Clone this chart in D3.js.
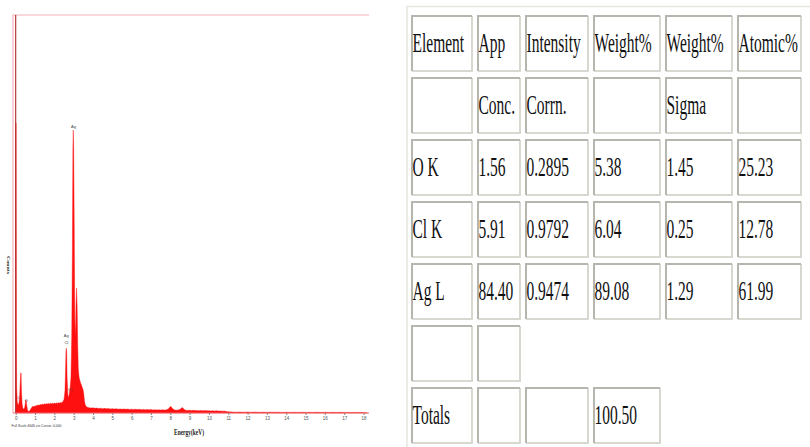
<!DOCTYPE html>
<html>
<head>
<meta charset="utf-8">
<script src="https://cdn.jsdelivr.net/npm/d3@7"></script>
<style>
  html, body { margin: 0; padding: 0; background: #fff; overflow: hidden; }
  svg { display: block; }
</style>
</head>
<body>
<svg id="fig" width="810" height="447"></svg>
<script>
// ---------- EDS spectrum: [energy keV, counts] ----------
const lowEnergy = [
  [0.00, 3385], [0.02, 3385], [0.035, 900], [0.05, 300], [0.08, 130], [0.11, 100],
  [0.14, 95], [0.17, 120], [0.20, 180], [0.23, 330], [0.26, 467], [0.28, 467],
  [0.30, 260], [0.33, 110], [0.37, 55], [0.42, 45], [0.46, 60], [0.49, 100],
  [0.52, 152], [0.54, 152], [0.57, 90], [0.61, 35], [0.66, 18], [0.71, 22], [0.76, 38]
];
const continuum = [
  [0.80, 55], [0.85, 70], [0.90, 78], [0.95, 74], [1.00, 85], [1.05, 80], [1.10, 92],
  [1.15, 88], [1.20, 95], [1.25, 90], [1.30, 102], [1.35, 96], [1.40, 105], [1.45, 99],
  [1.50, 108], [1.55, 101], [1.60, 110], [1.65, 104], [1.70, 112], [1.75, 106],
  [1.80, 114], [1.85, 108], [1.90, 113], [1.95, 107], [2.00, 116], [2.05, 110],
  [2.10, 118], [2.15, 112], [2.20, 120], [2.25, 114], [2.30, 122], [2.35, 118],
  [2.40, 125], [2.45, 135]
];
const silverRegion = [
  [2.50, 160], [2.55, 260], [2.58, 500], [2.60, 720], [2.62, 759], [2.64, 700],
  [2.66, 420], [2.70, 210], [2.74, 180], [2.78, 240], [2.82, 300], [2.86, 420],
  [2.90, 900], [2.93, 1800], [2.96, 3100], [2.98, 3303], [3.00, 3100], [3.03, 2200],
  [3.06, 1100], [3.09, 900], [3.12, 1250], [3.15, 1459], [3.18, 1250], [3.21, 800],
  [3.24, 520], [3.28, 420], [3.32, 380], [3.36, 350], [3.40, 330], [3.44, 300],
  [3.48, 280], [3.52, 230], [3.56, 140], [3.60, 95], [3.65, 75], [3.70, 68], [3.75, 64]
];
const midEnergy = [
  [3.8, 62], [3.9, 57], [4.0, 60], [4.1, 54], [4.2, 58], [4.3, 52], [4.4, 56], [4.5, 50],
  [4.6, 54], [4.7, 49], [4.8, 52], [4.9, 47], [5.0, 51], [5.1, 46], [5.2, 49], [5.3, 45],
  [5.4, 48], [5.5, 44], [5.6, 47], [5.7, 43], [5.8, 46], [5.9, 42], [6.0, 45], [6.1, 41],
  [6.2, 44], [6.3, 40], [6.4, 43], [6.5, 39], [6.6, 42], [6.7, 38], [6.8, 41], [6.9, 37],
  [7.0, 40], [7.1, 36], [7.2, 39], [7.3, 35], [7.4, 38], [7.5, 35], [7.6, 37], [7.7, 34],
  [7.8, 38], [7.9, 48], [7.95, 62], [8.0, 75], [8.05, 73], [8.1, 55], [8.2, 38], [8.3, 33],
  [8.4, 36], [8.5, 40], [8.55, 52], [8.6, 62], [8.65, 60], [8.7, 44], [8.8, 33], [8.9, 30],
  [9.0, 32], [9.1, 29], [9.2, 31], [9.3, 28], [9.4, 30], [9.5, 27], [9.6, 29], [9.7, 26],
  [9.8, 28], [9.9, 25], [10.0, 27], [10.1, 24], [10.2, 26], [10.3, 23], [10.4, 25],
  [10.5, 22], [10.6, 24], [10.7, 21], [10.8, 22], [10.9, 18], [11.0, 14]
];
const highEnergy = [
  [11.2, 12], [11.4, 10], [11.6, 12], [11.8, 9], [12.0, 11], [12.2, 9], [12.4, 11],
  [12.6, 8], [12.8, 10], [13.0, 8], [13.2, 10], [13.4, 8], [13.6, 10], [13.8, 7],
  [14.0, 9], [14.2, 7], [14.4, 9], [14.6, 7], [14.8, 9], [15.0, 7], [15.2, 8], [15.4, 7],
  [15.6, 9], [15.8, 6], [16.0, 8], [16.2, 6], [16.4, 8], [16.6, 6], [16.8, 8], [17.0, 6],
  [17.2, 7], [17.4, 6], [17.6, 7], [17.8, 5], [18.0, 5], [18.2, 0]
];
const energyTicks = d3.range(0, 19);
const fullScaleCounts = 4646;
const cursorKeV = 0.000;
const peakLabels = [
  { text: "C",  keV: 0.17, counts: 180 },
  { text: "O",  keV: 0.55, counts: 140 },
  { text: "Cl", keV: 2.82, counts: 270 },
  { text: "Ag", keV: 2.62, counts: 900 },
  { text: "Cl", keV: 2.62, counts: 820 },
  { text: "Ag", keV: 2.99, counts: 3340 }
];

// ---------- quantification table ----------
const headerRow1 = ["Element", "App", "Intensity", "Weight%", "Weight%", "Atomic%"];
const headerRow2 = ["", "Conc.", "Corrn.", "", "Sigma", ""];
const elementNames = ["O K", "Cl K", "Ag L"];
const appConc = [1.56, 5.91, 84.40];
const intensityCorrn = [0.2895, 0.9792, 0.9474];
const weightPct = [5.38, 6.04, 89.08];
const weightSigma = [1.45, 0.25, 1.29];
const atomicPct = [25.23, 12.78, 61.99];
const weightTotal = 100.50;

const svg = d3.select("#fig");

// ================= spectrum panel =================
const plot = { left: 13, top: 15, right: 369, bottom: 413 };
const x = d3.scaleLinear().domain([0, 18]).range([15.7, 363.5]);
const y = d3.scaleLinear().domain([0, fullScaleCounts]).range([plot.bottom, plot.top]);

const spectrum = [].concat(lowEnergy, continuum, silverRegion, midEnergy, highEnergy);

// frame (top and left edges)
svg.append("path")
  .attr("d", `M${plot.left},${plot.bottom}V${plot.top}H${plot.right}`)
  .attr("fill", "none").attr("stroke", "#f4b4bc").attr("stroke-width", 1.2);

// filled spectrum
svg.append("path")
  .datum(spectrum)
  .attr("d", d3.area().x(d => x(d[0])).y0(y(0)).y1(d => y(d[1])))
  .attr("fill", "#ff1010")
  .attr("stroke", "#ff1010").attr("stroke-width", 0.4);

// cursor line
svg.append("line")
  .attr("x1", x(cursorKeV)).attr("x2", x(cursorKeV))
  .attr("y1", plot.top).attr("y2", plot.bottom)
  .attr("stroke", "#b02a2a").attr("stroke-width", 1.1);

// energy axis
const axis = svg.append("g")
  .attr("transform", `translate(0,${plot.bottom})`)
  .call(d3.axisBottom(x).tickValues(energyTicks).tickSize(2).tickSizeOuter(0).tickPadding(2));
axis.select(".domain").attr("stroke", "#ec6a72").attr("stroke-width", 1).attr("d", `M${plot.left},0H${plot.right}`);
axis.selectAll(".tick line").attr("stroke", "#888");
axis.selectAll(".tick text").attr("font-size", 4.5).attr("font-family", "Arial, sans-serif").attr("fill", "#555");

// peak labels
svg.append("g").selectAll("text").data(peakLabels).join("text")
  .attr("x", d => x(d.keV)).attr("y", d => y(d.counts))
  .attr("dy", "0.35em").attr("text-anchor", "middle")
  .attr("font-size", 4).attr("font-family", "Arial, sans-serif").attr("fill", "#444")
  .text(d => d.text);

// footer and axis titles
svg.append("text")
  .attr("x", 11.5).attr("y", 427)
  .attr("font-size", 3.6).attr("font-family", "Arial, sans-serif").attr("fill", "#333")
  .attr("textLength", 50).attr("lengthAdjust", "spacingAndGlyphs")
  .text(`Full Scale ${fullScaleCounts} cts Cursor: ${cursorKeV.toFixed(3)}`);

svg.append("text")
  .attr("x", 189).attr("y", 434.5).attr("text-anchor", "middle")
  .attr("font-size", 7.5).attr("font-weight", "bold").attr("font-family", "Liberation Serif, serif").attr("fill", "#222")
  .attr("textLength", 30).attr("lengthAdjust", "spacingAndGlyphs")
  .text("Energy(keV)");

svg.append("text")
  .attr("transform", "translate(7,265) rotate(90)")
  .attr("text-anchor", "middle")
  .attr("font-size", 5).attr("font-weight", "bold").attr("font-family", "Liberation Serif, serif").attr("fill", "#222")
  .attr("textLength", 18).attr("lengthAdjust", "spacingAndGlyphs")
  .text("Counts");

// ================= table panel =================
const colWidths = [62, 44, 64, 68, 68, 65];
const colGap = 4;
const tableLeft = 411, tableTop = 15;
const rowPitch = 62, rowHeight = 57;
const colX = colWidths.reduce((acc, w, i) => { acc.push(i === 0 ? tableLeft : acc[i - 1] + colWidths[i - 1] + colGap); return acc; }, []);
const rowY = i => tableTop + i * rowPitch;

const fmt2 = d3.format(".2f"), fmt4 = d3.format(".4f");
const rows = [
  headerRow1,
  headerRow2,
  ...elementNames.map((n, i) => [n, fmt2(appConc[i]), fmt4(intensityCorrn[i]), fmt2(weightPct[i]), fmt2(weightSigma[i]), fmt2(atomicPct[i])]),
  ["", ""],
  ["Totals", "", "", fmt2(weightTotal)]
];

// outer table border
svg.append("path")
  .attr("d", `M407,447V6.5H810`)
  .attr("fill", "none").attr("stroke", "#e6e6e0").attr("stroke-width", 1.5);

const cells = [];
rows.forEach((r, ri) => r.forEach((t, ci) => cells.push({ t, ri, ci })));

const cg = svg.append("g").selectAll("g").data(cells).join("g")
  .attr("transform", d => `translate(${colX[d.ci]},${rowY(d.ri)})`);

cg.append("rect")
  .attr("width", d => colWidths[d.ci]).attr("height", rowHeight)
  .attr("fill", "#fff");
// lighter bottom/right, darker top/left edges
cg.append("path")
  .attr("d", d => `M${colWidths[d.ci] - 1},1V${rowHeight - 1}H1`)
  .attr("fill", "none").attr("stroke", "#d8d8d0").attr("stroke-width", 2);
cg.append("path")
  .attr("d", d => `M1,${rowHeight - 1}V1H${colWidths[d.ci] - 1}`)
  .attr("fill", "none").attr("stroke", "#b6b6ae").attr("stroke-width", 2);

cg.append("text")
  .attr("transform", `translate(1.5,${rowHeight / 2 + 8.6}) scale(1,1.7)`)
  .attr("font-family", "Liberation Serif, 'Times New Roman', serif")
  .attr("font-size", 15.5).attr("fill", "#111")
  .text(d => d.t);
</script>
</body>
</html>
